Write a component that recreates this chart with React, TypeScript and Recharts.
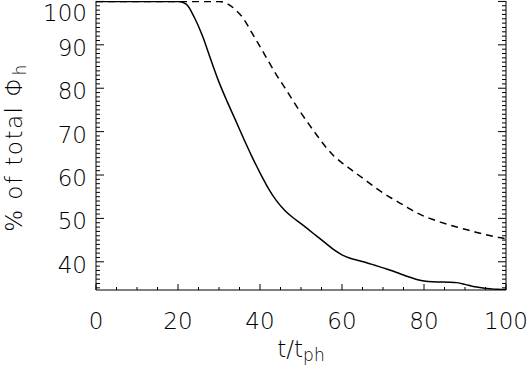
import React from "react";
import { LineChart, Line, XAxis, YAxis } from "recharts";

// time in units of t_ph
const T = [0, 10, 20, 22, 24, 26, 28, 30, 32, 34, 36, 38, 40, 42, 44, 46, 48, 50, 52, 54, 56, 58, 60, 62, 64, 66, 68, 70, 72, 74, 76, 78, 80, 82, 84, 86, 88, 90, 92, 94, 96, 98, 100];

const SOLID = [100, 100, 100, 99.4, 96.3, 92.0, 86.6, 81.4, 76.9, 72.7, 68.4, 64.3, 60.5, 57.0, 54.1, 51.9, 50.2, 48.8, 47.3, 45.8, 44.3, 42.8, 41.6, 40.8, 40.3, 39.8, 39.2, 38.6, 38.0, 37.3, 36.6, 36.0, 35.6, 35.4, 35.35, 35.3, 35.2, 34.8, 34.3, 34.0, 33.8, 33.65, 33.6];

const DASHED = [100, 100, 100, 100, 100, 100, 100, 100, 99.5, 98.1, 96.0, 92.8, 89.6, 86.3, 83.1, 80.2, 77.2, 74.3, 71.6, 69.0, 66.5, 64.4, 62.8, 61.4, 60.0, 58.6, 57.2, 55.9, 54.7, 53.6, 52.5, 51.4, 50.5, 49.8, 49.15, 48.55, 48.0, 47.5, 47.0, 46.5, 46.05, 45.65, 45.3];

const X_MAJOR = [0, 20, 40, 60, 80, 100];
const Y_MAJOR = [40, 50, 60, 70, 80, 90, 100];
const X_MINOR = Array.from({ length: 21 }, (_, i) => i * 5);
const Y_MINOR = Array.from({ length: 67 }, (_, i) => 34 + i);

const data = T.map((t, i) => ({ t, solid: SOLID[i], dashed: DASHED[i] }));

const FONT = "DejaVu Sans";
const INK = "#000";

const BottomTick = (props: any) => {
  const { x, y, payload } = props;
  const major = X_MAJOR.includes(payload.value);
  return (
    <g>
      <line x1={x} y1={y} x2={x} y2={y - (major ? 6 : 3)} stroke={INK} />
      {major && (
        <text x={x} y={y + 39} textAnchor="middle" fontFamily={FONT} fontWeight={200} fontSize={23} fill={INK}>
          {payload.value}
        </text>
      )}
    </g>
  );
};

const TopTick = (props: any) => {
  const { x, y, payload } = props;
  const major = X_MAJOR.includes(payload.value);
  return <line x1={x} y1={y} x2={x} y2={y + (major ? 6 : 3)} stroke={INK} />;
};

const LeftTick = (props: any) => {
  const { x, y, payload } = props;
  const major = Y_MAJOR.includes(payload.value);
  // keep the top label inside the frame, as in the original
  const ty = Math.max(y + 11, 21);
  return (
    <g>
      <line x1={x} y1={y} x2={x + (major ? 8 : 4)} y2={y} stroke={INK} />
      {major && (
        <text x={x - 9} y={ty} textAnchor="end" fontFamily={FONT} fontWeight={200} fontSize={23} fill={INK}>
          {payload.value}
        </text>
      )}
    </g>
  );
};

const RightTick = (props: any) => {
  const { x, y, payload } = props;
  const major = Y_MAJOR.includes(payload.value);
  return <line x1={x} y1={y} x2={x - (major ? 8 : 4)} y2={y} stroke={INK} />;
};

const XTitle = (props: any) => {
  const { viewBox } = props;
  const cx = viewBox.x + viewBox.width / 2;
  return (
    <text x={cx} y={viewBox.y + 67} textAnchor="middle" fontFamily={FONT} fontWeight={200} fontSize={23} fill={INK}>
      t/t
      <tspan dy={4} fontSize={17}>ph</tspan>
    </text>
  );
};

const YTitle = (props: any) => {
  const { viewBox } = props;
  const cx = 22;
  const cy = viewBox.y + viewBox.height / 2 + 2;
  return (
    <text
      x={cx}
      y={cy}
      transform={`rotate(-90, ${cx}, ${cy})`}
      textAnchor="middle"
      fontFamily={FONT}
      fontWeight={200}
      fontSize={23}
      letterSpacing={1.5}
      fill={INK}
    >
      % of total Φ
      <tspan dy={4} fontSize={17}>h</tspan>
    </text>
  );
};

export default function App() {
  return (
    <div style={{ position: "absolute", left: 0, top: 0, background: "#fff" }}>
      <LineChart width={528} height={367} data={data} margin={{ top: 1, right: 0, bottom: 0, left: 0 }}>
        <XAxis
          xAxisId="b"
          dataKey="t"
          type="number"
          domain={[0, 100]}
          ticks={X_MINOR}
          interval={0}
          height={77}
          tickSize={0}
          tickMargin={0}
          tickLine={false}
          tick={<BottomTick />}
          axisLine={{ stroke: INK }}
          label={<XTitle />}
        />
        <XAxis
          xAxisId="t"
          orientation="top"
          dataKey="t"
          type="number"
          domain={[0, 100]}
          ticks={X_MINOR}
          interval={0}
          height={0}
          tickSize={0}
          tickMargin={0}
          tickLine={false}
          tick={<TopTick />}
          axisLine={{ stroke: INK }}
        />
        <YAxis
          yAxisId="l"
          type="number"
          domain={[33.5, 100.1]}
          allowDataOverflow
          ticks={Y_MINOR}
          interval={0}
          width={96}
          tickSize={0}
          tickMargin={0}
          tickLine={false}
          tick={<LeftTick />}
          axisLine={{ stroke: INK }}
          label={<YTitle />}
        />
        <YAxis
          yAxisId="r"
          orientation="right"
          type="number"
          domain={[33.5, 100.1]}
          allowDataOverflow
          ticks={Y_MINOR}
          interval={0}
          width={22}
          tickSize={0}
          tickMargin={0}
          tickLine={false}
          tick={<RightTick />}
          axisLine={{ stroke: INK }}
        />
        <Line
          xAxisId="b"
          yAxisId="l"
          type="monotone"
          dataKey="solid"
          stroke={INK}
          strokeWidth={1.5}
          dot={false}
          isAnimationActive={false}
        />
        <Line
          xAxisId="b"
          yAxisId="l"
          type="monotone"
          dataKey="dashed"
          stroke={INK}
          strokeWidth={1.5}
          strokeDasharray="7 5"
          dot={false}
          isAnimationActive={false}
        />
      </LineChart>
    </div>
  );
}
